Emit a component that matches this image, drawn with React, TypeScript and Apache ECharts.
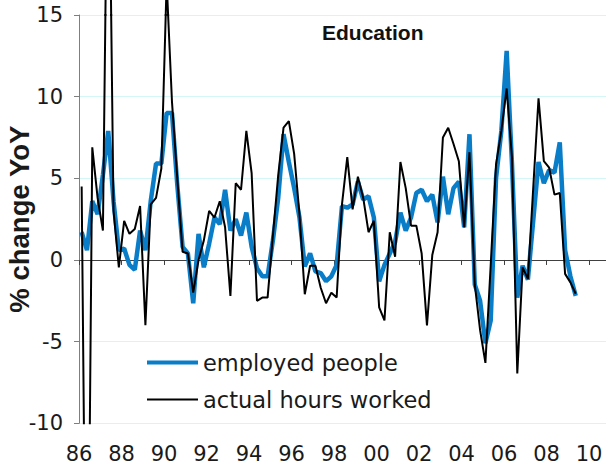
import { useEffect, useRef } from 'react';
import * as echarts from 'echarts';

// Quarterly % change YoY, first quarter = 1986 Q1
const firstYear = 1986;

const employedPeople = [
  1.7, 0.6, 3.6, 2.8, 5.2, 7.9, 3.6, 0.6, 0.7, -0.3,
  -0.6, 1.8, 0.6, 3.6, 5.9, 5.9, 9.0, 9.0, 4.6, 0.8,
  0.4, -2.65, 1.6, -0.45, 1.0, 2.6, 2.2, 4.3, 1.8, 2.5,
  1.5, 2.9, 0.8, -0.5, -1.0, -1.0, 1.2, 3.8, 7.7, 6.0,
  4.4, 2.6, -0.4, 0.4, -0.7, -0.8, -1.3, -1.0, -0.3, 3.3,
  3.2, 3.4, 4.8, 3.7, 3.9, 2.6, -1.3, -0.3, 0.4, 1.1,
  2.9, 1.8, 2.6, 4.1, 4.3, 3.6, 4.0, 2.3, 5.1, 2.8,
  4.4, 4.8, 2.0, 7.7, -1.5, -2.5, -5.1, -3.7, 5.0, 7.9,
  12.8, 5.9, -2.3, -0.35, -1.2, 2.4, 6.0, 4.7, 5.5, 5.35,
  7.2, 0.6, -1.0, -2.2,
];

const actualHoursWorked = [
  4.5, -30, 6.9, 3.8, 1.8, 30, 3.0, -0.45, 2.4, 1.6,
  1.9, 3.3, -4.0, 3.4, 3.8, 5.6, 17, 9.7, 5.0, 0.5,
  0.4, -2.0, 0, 1.2, 3.0, 2.6, 3.6, 2.0, -2.2, 4.7,
  4.3, 7.9, 5.3, -2.5, -2.3, -2.3, 1.5, 5.2, 8.1, 8.5,
  6.5, 2.8, -2.1, -0.35, -0.35, -1.7, -2.65, -2.0, -2.3, 3.4,
  6.3, 3.1, 5.1, 3.8, 1.7, 2.4, -2.9, -3.7, 1.7, 0.2,
  6.0, 4.4, 2.1, 2.1, 0.4, -4.0, 0.3, 1.7, 7.5, 8.1,
  7.1, 6.05, 2.0, 6.6, -1.5, -4.3, -6.3, -0.3, 5.85, 7.9,
  10.5, 6.3, -6.95, -0.45, -1.16, 4.4, 9.9, 6.05, 5.65, 4.0,
  4.1, -0.85, -1.37, -2.07,
];

const seriesNames = ['employed people', 'actual hours worked'];
const yTicks = { min: -10, max: 15, interval: 5 };
const xTicks = { min: 1986, max: 2010.8, interval: 2 };

const toPoints = (values: number[]) =>
  values.map((v, i) => [firstYear + (i + 0.5) / 4, v]);

const yearLabel = (v: number) => {
  const r = Math.round(v);
  if (Math.abs(v - r) > 1e-6 || r % 2 !== 0) return '';
  return String(r % 100).padStart(2, '0');
};

export default function App() {
  const ref = useRef<HTMLDivElement>(null);

  useEffect(() => {
    if (!ref.current) return;
    const chart = echarts.init(ref.current, null, { renderer: 'svg' });

    const gridTop = 15;
    const gridBottom = 44.7;
    const plotH = 468 - gridTop - gridBottom;
    const pxPerUnit = plotH / (yTicks.max - yTicks.min);
    const overflowMax = yTicks.max + gridTop / pxPerUnit;

    const blue = '#0a7dc9';
    const textColor = '#1a1a1a';

    chart.setOption({
      animation: false,
      backgroundColor: '#ffffff',
      title: {
        text: 'Education',
        left: 317,
        top: 17,
        textStyle: {
          fontSize: 21,
          fontWeight: 'bold',
          fontFamily: 'Liberation Sans, Arial, sans-serif',
          color: '#111111',
        },
      },
      legend: [
        {
          data: [seriesNames[0]],
          left: 147,
          top: 351,
          padding: 0,
          itemWidth: 51,
          itemHeight: 4,
          icon: 'rect',
          selectedMode: false,
          itemStyle: { borderWidth: 0 },
          textStyle: { fontSize: 22.5, fontFamily: 'DejaVu Sans', color: textColor },
        },
        {
          data: [seriesNames[1]],
          left: 147,
          top: 388,
          padding: 0,
          itemWidth: 51,
          itemHeight: 2,
          icon: 'rect',
          selectedMode: false,
          itemStyle: { borderWidth: 0 },
          textStyle: { fontSize: 22.5, fontFamily: 'DejaVu Sans', color: textColor },
        },
      ],
      grid: [
        { left: 79, right: 0, top: gridTop, bottom: gridBottom, outerBoundsMode: 'none', containLabel: false },
        { left: 79, right: 0, top: 0, height: gridTop, outerBoundsMode: 'none', containLabel: false },
      ],
      xAxis: [
        {
          type: 'value',
          gridIndex: 0,
          min: xTicks.min,
          max: xTicks.max,
          interval: xTicks.interval,
          position: 'bottom',
          axisLine: { show: false, onZero: false },
          axisTick: { show: false },
          splitLine: { show: false },
          axisLabel: {
            formatter: yearLabel,
            fontSize: 21,
            fontFamily: 'DejaVu Sans',
            color: textColor,
            margin: 20,
            showMaxLabel: false,
          },
        },
        {
          type: 'value',
          gridIndex: 0,
          min: xTicks.min,
          max: xTicks.max,
          interval: xTicks.interval,
          position: 'top',
          axisLine: { show: true, onZero: true, lineStyle: { color: '#404040', width: 1 } },
          axisTick: { show: true, inside: true, length: 5, lineStyle: { color: '#404040' } },
          axisLabel: { show: false },
          splitLine: { show: false },
        },
        {
          type: 'value',
          gridIndex: 1,
          min: xTicks.min,
          max: xTicks.max,
          show: false,
        },
      ],
      yAxis: [
        {
          type: 'value',
          gridIndex: 0,
          min: yTicks.min,
          max: yTicks.max,
          interval: yTicks.interval,
          name: '% change YoY',
          nameLocation: 'middle',
          nameRotate: 90,
          nameGap: 46,
          nameMoveOverlap: false,
          nameTextStyle: {
            fontSize: 27.5,
            fontWeight: 'bold',
            fontFamily: 'Liberation Sans, Arial, sans-serif',
            color: textColor,
          },
          axisLine: { show: true, onZero: false, lineStyle: { color: '#7f7f7f' } },
          axisTick: { show: true, length: 5, lineStyle: { color: '#7f7f7f' } },
          axisLabel: { fontSize: 21, fontFamily: 'DejaVu Sans', color: textColor, margin: 16 },
          splitLine: { show: true, lineStyle: { color: '#d4f6f6', width: 1 } },
        },
        {
          type: 'value',
          gridIndex: 1,
          min: yTicks.max,
          max: overflowMax,
          show: false,
        },
      ],
      series: [
        {
          type: 'line',
          name: seriesNames[0],
          xAxisIndex: 0,
          yAxisIndex: 0,
          data: toPoints(employedPeople),
          symbol: 'none',
          clip: true,
          silent: true,
          lineStyle: { color: blue, width: 4.5 },
          itemStyle: { color: blue },
          z: 2,
        },
        {
          type: 'line',
          name: seriesNames[1],
          xAxisIndex: 0,
          yAxisIndex: 0,
          data: toPoints(actualHoursWorked),
          symbol: 'none',
          clip: true,
          silent: true,
          lineStyle: { color: '#000000', width: 2 },
          itemStyle: { color: '#000000' },
          z: 3,
        },
        {
          type: 'line',
          name: seriesNames[1],
          xAxisIndex: 2,
          yAxisIndex: 1,
          data: toPoints(actualHoursWorked),
          symbol: 'none',
          clip: true,
          silent: true,
          lineStyle: { color: '#000000', width: 2 },
          itemStyle: { color: '#000000' },
          z: 3,
        },
      ],
    });

    return () => chart.dispose();
  }, []);

  return (
    <div
      ref={ref}
      style={{ position: 'fixed', left: 0, top: 0, width: 606, height: 468, background: '#fff' }}
    />
  );
}
